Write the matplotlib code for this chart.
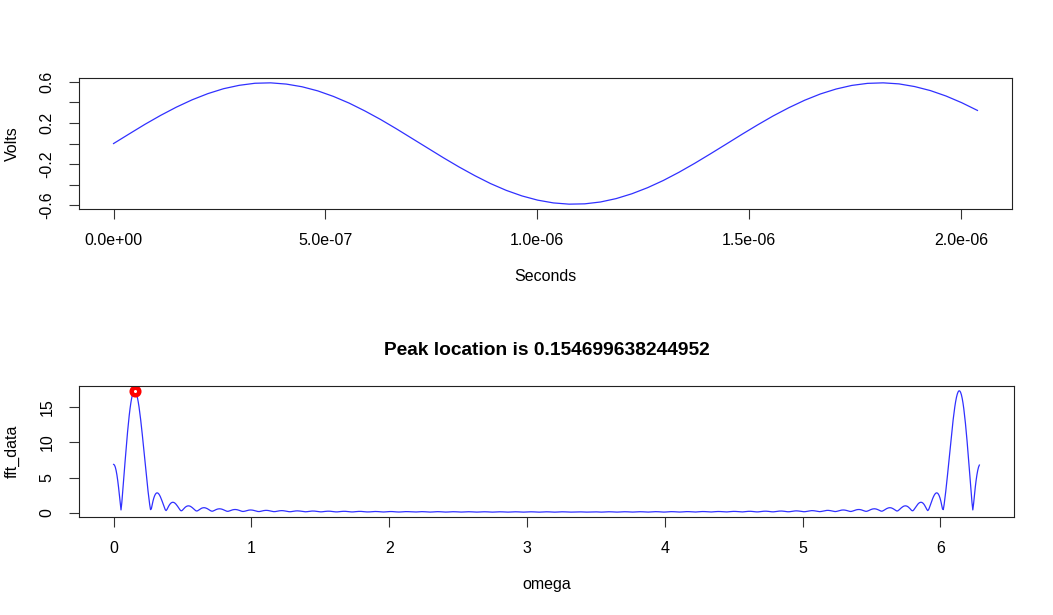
import numpy as np
import matplotlib
matplotlib.use("Agg")
import matplotlib.pyplot as plt

# ---- data ----
volts = [0.000, 0.094, 0.187, 0.274, 0.354, 0.425, 0.485, 0.533, 0.566, 0.586,
         0.590, 0.578, 0.552, 0.512, 0.458, 0.393, 0.317, 0.234, 0.144, 0.050,
         -0.044, -0.138, -0.228, -0.312, -0.389, -0.455, -0.509, -0.550, -0.577,
         -0.589, -0.586, -0.568, -0.535, -0.488, -0.429, -0.359, -0.279, -0.192,
         -0.100, -0.006, 0.089, 0.181, 0.269, 0.349, 0.421, 0.482, 0.530, 0.565,
         0.585, 0.590, 0.580, 0.554, 0.515, 0.462, 0.397, 0.322]
sample_interval = 3.7067e-8         # seconds between samples
fft_length = 1057                   # zero-padded FFT length

top_xticks = [0.0, 5e-7, 1e-6, 1.5e-6, 2e-6]
top_xticklabels = ["0.0e+00", "5.0e-07", "1.0e-06", "1.5e-06", "2.0e-06"]
top_yticks = [-0.6, -0.4, -0.2, 0.0, 0.2, 0.4, 0.6]
top_yticklabels = ["-0.6", "", "-0.2", "", "0.2", "", "0.6"]
bot_xticks = [0, 1, 2, 3, 4, 5, 6]
bot_yticks = [0, 5, 10, 15]
title_text = "Peak location is 0.154699638244952"

# ---- derived series ----
volts = np.array(volts)
seconds = np.arange(len(volts)) * sample_interval
fft_data = np.abs(np.fft.fft(volts, fft_length))
omega = np.linspace(0, 2 * np.pi, fft_length)
peak_idx = int(np.argmax(fft_data[: fft_length // 2]))

plt.rcParams['font.family'] = ['Liberation Sans', 'DejaVu Sans']
FS = 11.5
plt.rcParams['font.size'] = FS

fig = plt.figure(figsize=(10.53, 6.15), dpi=100)
W, H = 1053, 615
def axes_px(l, t, r, b):
    return fig.add_axes([l / W, 1 - b / H, (r - l) / W, (b - t) / H])

line_col = '#3030ff'

def style(ax):
    for s in ax.spines.values():
        s.set_linewidth(0.8)
        s.set_color('#222222')
    ax.tick_params(direction='out', length=7.5, width=0.8, color='#333333',
                   labelsize=FS, pad=10)
    ax.tick_params(axis='y', labelrotation=90)
    for lab in ax.get_yticklabels():
        lab.set_va('center')

def r_range(lo, hi):
    d = (hi - lo) * 0.04
    return lo - d, hi + d

# top panel
ax1 = axes_px(79, 78, 1012, 209)
ax1.plot(seconds, volts, color=line_col, lw=0.9)
ax1.set_xlim(*r_range(seconds.min(), seconds.max()))
ax1.set_ylim(*r_range(volts.min(), volts.max()))
ax1.set_xticks(top_xticks, top_xticklabels)
ax1.set_yticks(top_yticks, top_yticklabels)
ax1.set_xlabel("Seconds", labelpad=15, fontsize=FS)
ax1.set_ylabel("Volts", labelpad=14, fontsize=FS)
style(ax1)

# bottom panel
ax2 = axes_px(79, 386, 1014, 517)
ax2.plot(omega, fft_data, color=line_col, lw=0.9)
ax2.plot([omega[peak_idx]], [fft_data[peak_idx]], 'o', ms=5.5, mfc='white',
         mec='red', mew=3.2)
ax2.set_xlim(*r_range(omega.min(), omega.max()))
ax2.set_ylim(*r_range(fft_data.min(), fft_data.max()))
ax2.set_xticks(bot_xticks, [str(v) for v in bot_xticks])
ax2.set_yticks(bot_yticks, [str(v) for v in bot_yticks])
ax2.set_xlabel("omega", labelpad=15, fontsize=FS)
ax2.set_ylabel("fft_data", labelpad=14, fontsize=FS)
ax2.set_title(title_text, fontsize=13.8, fontweight='bold', pad=22)
style(ax2)

fig.savefig("out.png", dpi=100)
